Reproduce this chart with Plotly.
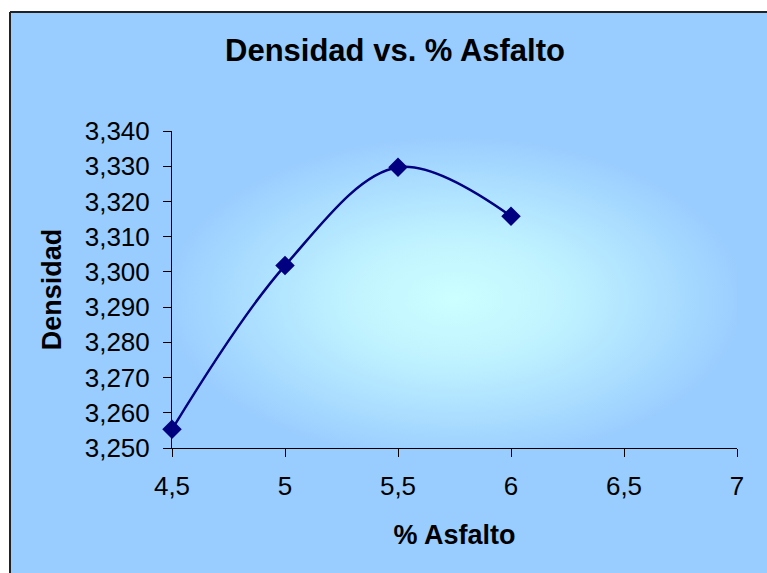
import base64
import plotly.graph_objects as go

# Data
asfalto = [4.5, 5.0, 5.5, 6.0]
densidad = [3.2553, 3.3018, 3.3297, 3.3158]
x_ticks = [4.5, 5.0, 5.5, 6.0, 6.5, 7.0]
y_ticks = [3.25, 3.26, 3.27, 3.28, 3.29, 3.30, 3.31, 3.32, 3.33, 3.34]

FONT = "Liberation Sans, Arial, sans-serif"
BG = "#99CCFF"

svg = ('<svg xmlns="http://www.w3.org/2000/svg" width="566" height="317" '
       'viewBox="0 0 566 317" preserveAspectRatio="none"><defs>'
       '<radialGradient id="g" cx="0.5" cy="0.53" r="0.58">'
       '<stop offset="0" stop-color="#CCFFFF"/>'
       '<stop offset="0.35" stop-color="#BFF2FF"/>'
       '<stop offset="0.9" stop-color="#99CCFF"/>'
       '</radialGradient></defs>'
       '<rect width="566" height="317" fill="url(#g)"/></svg>')
src = "data:image/svg+xml;base64," + base64.b64encode(svg.encode()).decode()

fig = go.Figure()
fig.add_trace(go.Scatter(
    x=asfalto, y=densidad, mode="lines+markers",
    line=dict(color="#000080", width=2.5, shape="spline", smoothing=1.0),
    marker=dict(symbol="diamond", size=15, color="#000080"),
    cliponaxis=False, showlegend=False,
))

W, H = 767, 573
L, R, T, B = 172, 30, 131, 125
pw, ph = W - L - R, H - T - B

def px_to_paper_x(px):
    return (px - L) / pw

def px_to_paper_y(py):
    return (H - B - py) / ph

bx0 = px_to_paper_x(10)
by1 = px_to_paper_y(12)

shapes = [
    dict(type="rect", xref="paper", yref="paper", x0=px_to_paper_x(-5), x1=bx0,
         y0=px_to_paper_y(H + 5), y1=px_to_paper_y(-5), fillcolor="white", line=dict(width=0)),
    dict(type="rect", xref="paper", yref="paper", x0=px_to_paper_x(-5), x1=px_to_paper_x(W + 5),
         y0=by1, y1=px_to_paper_y(-5), fillcolor="white", line=dict(width=0)),
    dict(type="line", xref="paper", yref="paper", x0=bx0, x1=bx0,
         y0=px_to_paper_y(H + 5), y1=by1, line=dict(color="#222222", width=2)),
    dict(type="line", xref="paper", yref="paper", x0=bx0, x1=px_to_paper_x(W + 5),
         y0=by1, y1=by1, line=dict(color="#222222", width=2)),
]

fig.update_layout(
    width=W, height=H,
    margin=dict(l=L, r=R, t=T, b=B, pad=0),
    paper_bgcolor=BG, plot_bgcolor=BG,
    separators=",.",
    font=dict(family=FONT, color="black", size=26),
    title=dict(text="<b>Densidad vs. % Asfalto</b>", x=395 / W, xref="container",
               xanchor="center", y=1 - 50 / H, yref="container", yanchor="middle",
               font=dict(size=31, family=FONT, color="black")),
    xaxis=dict(range=[4.5, 7], tickvals=x_ticks, ticks="outside", ticklen=8,
               tickcolor="black", showline=True, linecolor="black", linewidth=1,
               showgrid=False, zeroline=False, tickfont=dict(size=26),
               ticklabelstandoff=7,
               title=dict(text="<b>% Asfalto</b>", font=dict(size=27), standoff=24)),
    yaxis=dict(range=[3.25, 3.34], tickvals=y_ticks, tickformat=".3f", ticks="outside",
               ticklen=8, tickcolor="black", showline=True, linecolor="black", linewidth=1,
               showgrid=False, zeroline=False, tickfont=dict(size=26),
               ticklabelstandoff=8,
               title=dict(text="<b>Densidad</b>", font=dict(size=27), standoff=15)),
    images=[dict(source=src, xref="paper", yref="paper", x=0, y=1, sizex=1, sizey=1,
                 xanchor="left", yanchor="top", sizing="stretch", layer="below")],
    shapes=shapes,
)

fig.write_html("out.html",
               config={"displayModeBar": False},
               post_script="document.body.style.margin='0';document.body.style.overflow='hidden';")
